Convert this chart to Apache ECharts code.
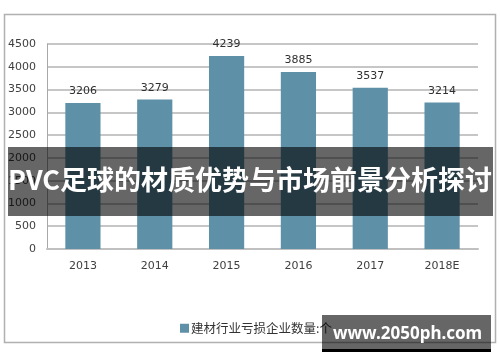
<!DOCTYPE html>
<html><head><meta charset="utf-8">
<script src="https://cdn.jsdelivr.net/npm/echarts@6/dist/echarts.min.js"></script>
<style>html,body{margin:0;padding:0;background:#fff}#c{width:500px;height:362px}</style>
</head><body><div id="c"></div>
<script>
const categories = ['2013','2014','2015','2016','2017','2018E'];
const values = [3206, 3279, 4239, 3885, 3537, 3214];
const seriesName = '建材行业亏损企业数量:个';
const yTicks = {min: 0, max: 4500, interval: 500};
const bannerText = 'PVC足球的材质优势与市场前景分析探讨';
const watermarkText = 'www.2050ph.com';

const chart = echarts.init(document.getElementById('c'), null, {renderer: 'canvas'});
chart.setOption({
  animation: false,
  backgroundColor: '#fff',
  grid: {left: 47, right: 22, top: 44, bottom: 113},
  xAxis: {
    type: 'category', data: categories,
    axisLine: {show: true, lineStyle: {color: '#c0c0c0', width: 2}},
    axisTick: {show: false},
    axisLabel: {color: '#404040', fontFamily: 'DejaVu Sans', fontSize: 11, margin: 12}
  },
  yAxis: {
    type: 'value', min: yTicks.min, max: yTicks.max, interval: yTicks.interval,
    axisLine: {show: true, lineStyle: {color: '#a8a8a8', width: 1}},
    axisTick: {show: false},
    splitLine: {lineStyle: {color: '#c6c6c6', width: 2}},
    axisLabel: {color: '#404040', fontFamily: 'DejaVu Sans', fontSize: 11, margin: 11,
      formatter: v => String(v)}
  },
  legend: {
    show: true, left: 175, top: 317, icon: 'rect', itemWidth: 9, itemHeight: 9, itemGap: 4,
    textStyle: {color: '#333', fontFamily: 'Noto Sans CJK SC', fontSize: 12.5, padding: [0,0,0,-3]},
    data: [seriesName]
  },
  series: [{
    type: 'bar', name: seriesName, data: values, barWidth: '49%',
    itemStyle: {color: '#5e90a8'},
    label: {show: true, position: 'top', distance: 6, color: '#303030', fontFamily: 'DejaVu Sans', fontSize: 11}
  }],
  graphic: [
    {type: 'rect', z: 0, silent: true, shape: {x: 4.5, y: 14.5, width: 491, height: 328},
     style: {fill: 'none', stroke: '#b0b0b0', lineWidth: 1.5}},
    {type: 'rect', z: 100, silent: true, shape: {x: 8, y: 147, width: 485, height: 69},
     style: {fill: 'rgba(0,0,0,0.6)'}},
    {type: 'text', z: 101, silent: true, left: 'center', top: 166,
     style: {text: bannerText, fill: '#fff', font: 'bold 27px "Noto Sans CJK SC"'}},
    {type: 'rect', z: 100, silent: true, shape: {x: 322, y: 315, width: 169, height: 34},
     style: {fill: 'rgba(0,0,0,0.6)'}},
    {type: 'rect', z: 100, silent: true, shape: {x: 322, y: 349, width: 169, height: 3},
     style: {fill: '#000'}},
    {type: 'text', z: 101, silent: true, left: 333, top: 326,
     style: {text: watermarkText, fill: '#fff', font: 'bold 17px "Noto Sans"'}}
  ]
});
</script></body></html>
